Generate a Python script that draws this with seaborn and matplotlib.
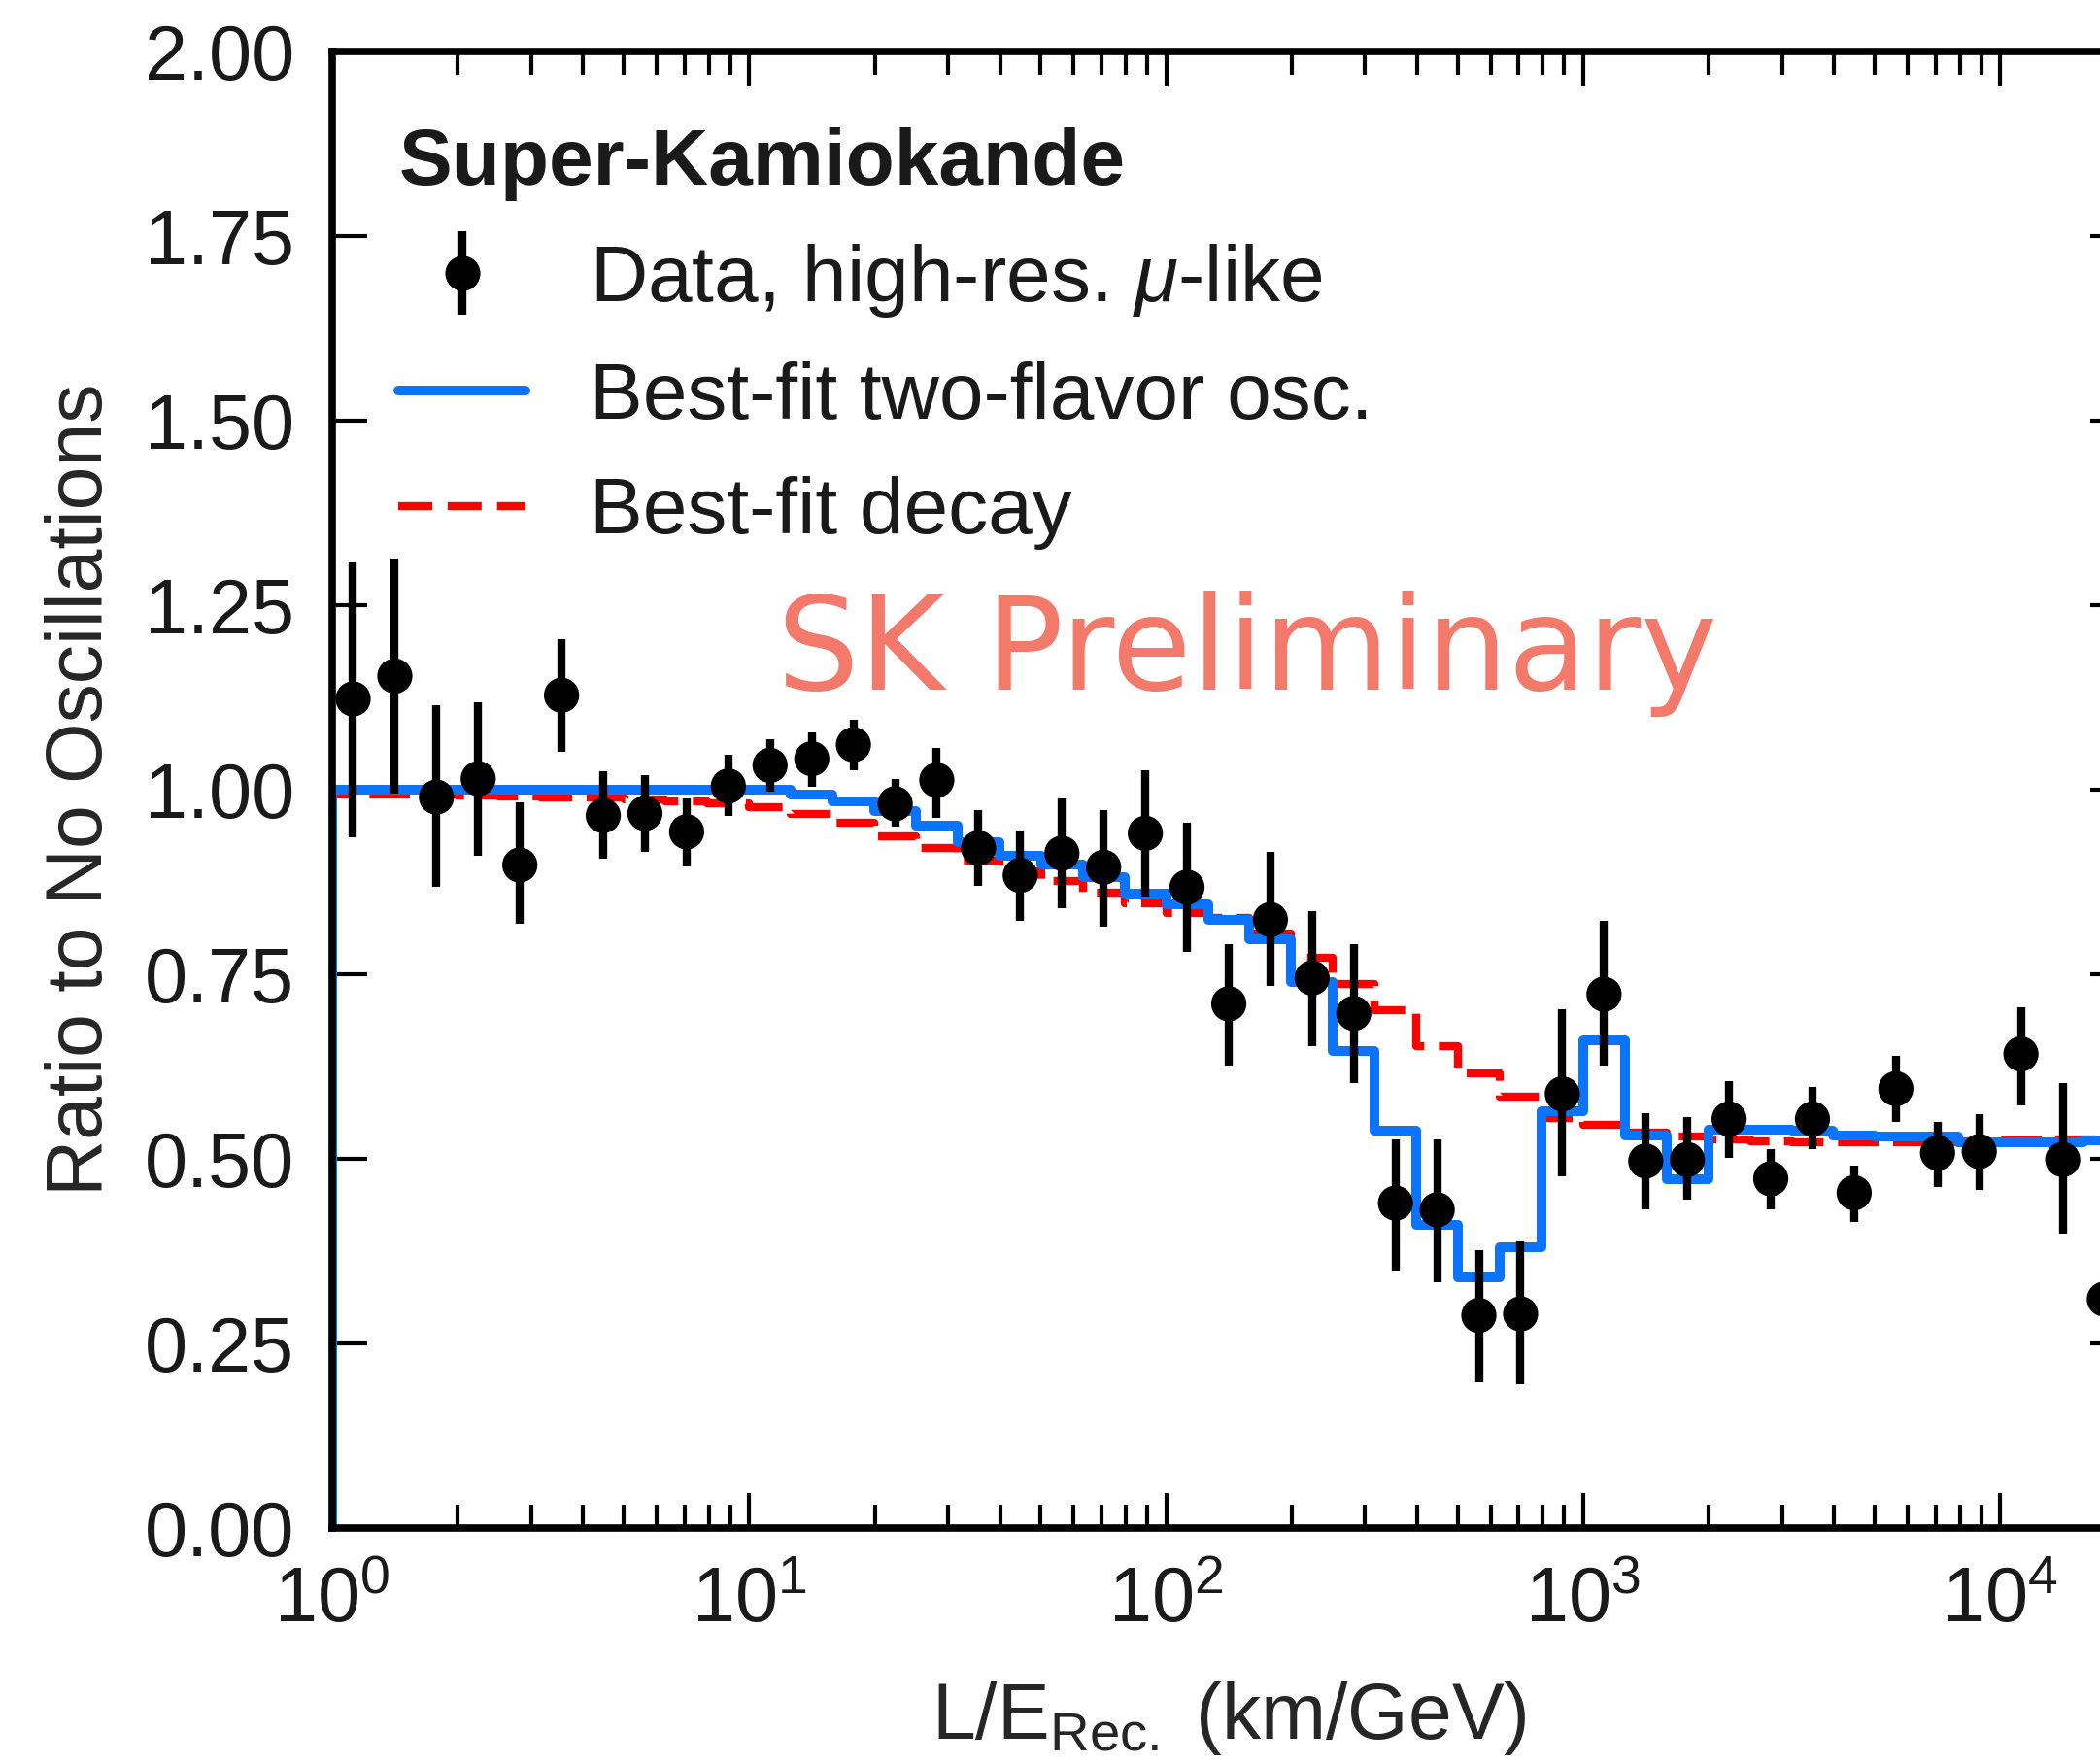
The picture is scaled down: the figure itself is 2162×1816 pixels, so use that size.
import numpy as np
import pandas as pd
import matplotlib
matplotlib.use("Agg")
import matplotlib.pyplot as plt
import seaborn as sns
from matplotlib.lines import Line2D
from matplotlib.ticker import LogLocator, NullFormatter

# ---------------- data ----------------
le_centers = [1.122, 1.413, 1.778, 2.239, 2.818, 3.548, 4.467, 5.623, 7.079, 8.913,
              11.22, 14.13, 17.78, 22.39, 28.18, 35.48, 44.67, 56.23, 70.79, 89.13,
              112.2, 141.3, 177.8, 223.9, 281.8, 354.8, 446.7, 562.3, 707.9, 891.3,
              1122, 1413, 1778, 2239, 2818, 3548, 4467, 5623, 7079, 8913,
              11220, 14130, 17780]
ratio = [1.123, 1.154, 0.990, 1.015, 0.898, 1.128, 0.965, 0.968, 0.943, 1.005,
         1.033, 1.042, 1.061, 0.981, 1.013, 0.921, 0.884, 0.914, 0.895, 0.941,
         0.868, 0.710, 0.824, 0.745, 0.697, 0.440, 0.431, 0.288, 0.290, 0.588,
         0.723, 0.497, 0.499, 0.554, 0.473, 0.554, 0.454, 0.595, 0.508, 0.510,
         0.642, 0.499, 0.310]
ratio_low = [0.935, 0.995, 0.868, 0.911, 0.819, 1.052, 0.906, 0.916, 0.896, 0.965,
             0.997, 1.004, 1.026, 0.950, 0.962, 0.870, 0.822, 0.840, 0.815, 0.855,
             0.780, 0.627, 0.734, 0.653, 0.603, 0.349, 0.333, 0.197, 0.195, 0.476,
             0.627, 0.432, 0.445, 0.502, 0.432, 0.513, 0.414, 0.550, 0.462, 0.458,
             0.572, 0.399, 0.137]
ratio_high = [1.308, 1.313, 1.114, 1.118, 0.983, 1.204, 1.025, 1.020, 0.988, 1.048,
              1.069, 1.078, 1.095, 1.015, 1.057, 0.973, 0.945, 0.988, 0.973, 1.026,
              0.955, 0.791, 0.916, 0.835, 0.791, 0.526, 0.526, 0.377, 0.388, 0.703,
              0.822, 0.562, 0.557, 0.605, 0.513, 0.598, 0.491, 0.640, 0.550, 0.561,
              0.705, 0.603, 0.420]

bin_edges = [1.0, 1.259, 1.585, 1.995, 2.512, 3.162, 3.981, 5.012, 6.310, 7.943,
             10.0, 12.59, 15.85, 19.95, 25.12, 31.62, 39.81, 50.12, 63.10, 79.43,
             100.0, 125.9, 158.5, 199.5, 251.2, 316.2, 398.1, 501.2, 631.0, 794.3,
             1000.0, 1259, 1585, 1995, 2512, 3162, 3981, 5012, 6310, 7943,
             10000.0, 12590, 15850, 19950]
osc_fit = [1.000, 1.000, 1.000, 1.000, 1.000, 1.000, 1.000, 1.000, 1.000, 1.000,
           1.000, 0.993, 0.984, 0.971, 0.951, 0.929, 0.910, 0.899, 0.881, 0.859,
           0.845, 0.824, 0.798, 0.739, 0.646, 0.538, 0.410, 0.340, 0.380, 0.565,
           0.660, 0.532, 0.473, 0.539, 0.539, 0.538, 0.531, 0.530, 0.530, 0.523,
           0.522, 0.523, 0.525]
decay_fit = [0.994, 0.993, 0.993, 0.992, 0.991, 0.990, 0.989, 0.987, 0.984, 0.981,
             0.977, 0.967, 0.955, 0.937, 0.921, 0.904, 0.890, 0.877, 0.861, 0.846,
             0.833, 0.826, 0.805, 0.772, 0.737, 0.701, 0.653, 0.616, 0.584, 0.555,
             0.546, 0.536, 0.530, 0.526, 0.524, 0.523, 0.522, 0.522, 0.523, 0.524,
             0.525, 0.526, 0.527]

y_ticks = [0.00, 0.25, 0.50, 0.75, 1.00, 1.25, 1.50, 1.75, 2.00]
x_ticks = [1, 10, 100, 1000, 10000]
x_tick_labels = [r"$10^{0}$", r"$10^{1}$", r"$10^{2}$", r"$10^{3}$", r"$10^{4}$"]

legend_title = "Super-Kamiokande"
legend_labels = [r"Data, high-res. $\mu$-like", "Best-fit two-flavor osc.", "Best-fit decay"]

BLUE = "#0A74FF"
RED = "#FF0000"
SALMON = "#F37A6B"

# ---------------- style ----------------
sns.set_theme(style="ticks")
plt.rcParams["font.family"] = ["Liberation Sans", "DejaVu Sans"]
plt.rcParams["mathtext.fontset"] = "custom"
plt.rcParams["mathtext.rm"] = "Liberation Sans"
plt.rcParams["mathtext.it"] = "Liberation Sans:italic"
plt.rcParams["mathtext.bf"] = "Liberation Sans:bold"
plt.rcParams["axes.edgecolor"] = "black"
plt.rcParams["text.color"] = "#1a1a1a"

fig = plt.figure(figsize=(21.62, 18.16), dpi=100, facecolor="white")
ax = fig.add_axes([0.1582, 0.1338, 0.8538, 0.837])
ax.set_facecolor("white")
ax.set_xscale("log")

# step histograms (start from zero at the left edge like a ROOT histogram)
osc_df = pd.DataFrame({"x": [bin_edges[0]] + bin_edges,
                       "y": [0.0] + osc_fit + [osc_fit[-1]]})
dec_df = pd.DataFrame({"x": [bin_edges[0]] + bin_edges,
                       "y": [0.0] + decay_fit + [decay_fit[-1]]})

sns.lineplot(data=dec_df, x="x", y="y", estimator=None, sort=False,
             drawstyle="steps-post", color=RED, linewidth=6,
             linestyle=(0, (5.0, 1.8)), ax=ax, zorder=2)
sns.lineplot(data=osc_df, x="x", y="y", estimator=None, sort=False,
             drawstyle="steps-post", color=BLUE, linewidth=7.2, ax=ax, zorder=3)

# data with error bars
ratio_arr = np.array(ratio)
yerr = [ratio_arr - np.array(ratio_low), np.array(ratio_high) - ratio_arr]
ax.errorbar(le_centers, ratio, yerr=yerr, fmt="none", ecolor="black",
            elinewidth=6, capsize=0, zorder=4)
sns.scatterplot(x=le_centers, y=ratio, s=680, color="black", edgecolor="none",
                linewidth=0, ax=ax, zorder=5)

# axes
ax.set_xlim(1, 10 ** 4.3)
ax.set_ylim(0, 2)
ax.set_xticks(x_ticks)
ax.set_xticklabels(x_tick_labels)
ax.xaxis.set_minor_locator(LogLocator(base=10, subs=np.arange(2, 10)))
ax.xaxis.set_minor_formatter(NullFormatter())
ax.set_yticks(y_ticks)
ax.set_yticklabels([f"{v:.2f}" for v in y_ticks])

ax.tick_params(axis="both", which="major", direction="in", length=26, width=3,
               top=True, right=True, bottom=True, left=True, labelsize=57,
               pad=28, colors="black", labelcolor="#1a1a1a")
ax.tick_params(axis="x", which="minor", direction="in", length=17, width=3,
               top=True, bottom=True, colors="black")
ax.tick_params(axis="y", which="minor", left=False, right=False)

for sp in ax.spines.values():
    sp.set_linewidth(5.5)
    sp.set_color("black")
    sp.set_zorder(6)

ax.set_ylabel("Ratio to No Oscillations", fontsize=58, labelpad=19)
ax.set_xlabel(r"L/E$_{\mathrm{Rec.}}$ (km/GeV)", fontsize=58, labelpad=30)

# legend
h_data = (Line2D([], [], ls="", marker="|", ms=62, mew=6, color="black"),
          Line2D([], [], ls="", marker="o", ms=25, color="black"))
h_osc = Line2D([], [], color=BLUE, lw=7.2)
h_dec = Line2D([], [], color=RED, lw=6, ls=(0, (4.2, 1.9)))
leg = ax.legend([h_data, h_osc, h_dec], legend_labels, loc="upper left",
                bbox_to_anchor=(0.037, 0.949), frameon=False, fontsize=59,
                title=legend_title,
                title_fontproperties={"weight": "bold", "size": 59},
                alignment="left", handlelength=1.6, handletextpad=0.8,
                labelspacing=0.52, borderpad=0, borderaxespad=0)

fig.text(800 / 2162, 1 - 710 / 1816, "SK Preliminary", fontsize=96,
         color=SALMON, family="DejaVu Sans", ha="left", va="baseline")

fig.savefig("out.png", dpi=100, facecolor="white")
